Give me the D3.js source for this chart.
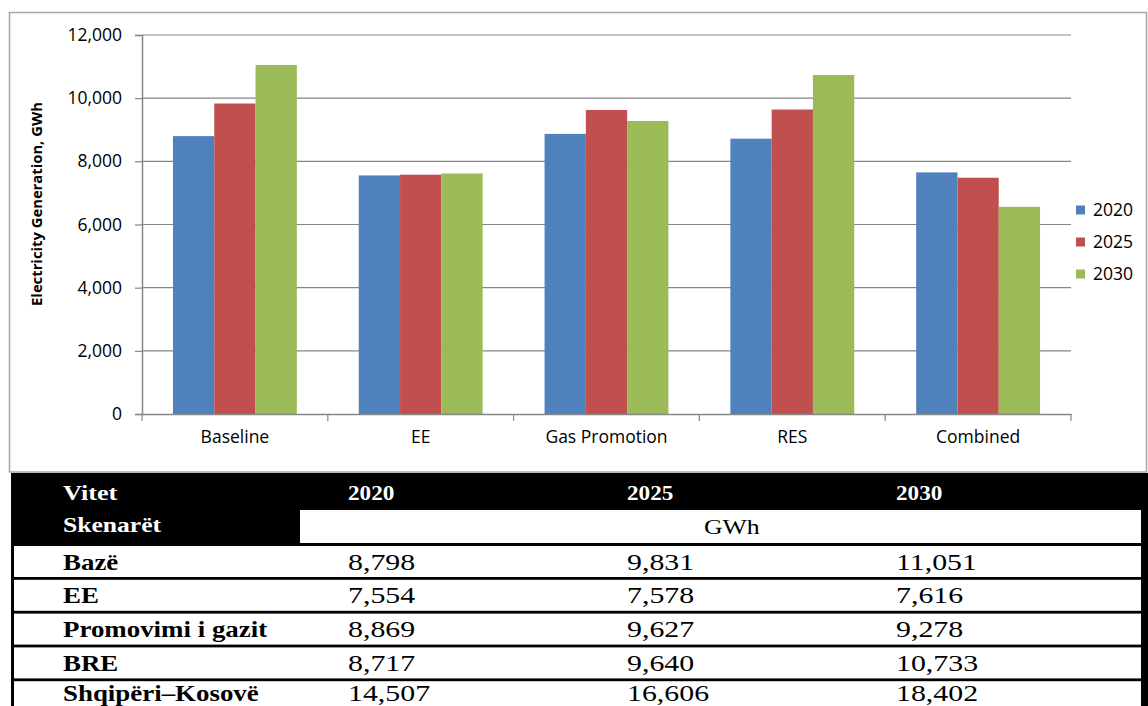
<!DOCTYPE html>
<html><head><meta charset="utf-8">
<script src="https://cdn.jsdelivr.net/npm/d3@7"></script>
<style>html,body{margin:0;padding:0;background:#fff;} svg{display:block}</style>
</head><body><svg id="c" width="1148" height="706"></svg>
<script>
const categories = ["Baseline","EE","Gas Promotion","RES","Combined"];
const years = ["2020","2025","2030"];
const values2020 = [8798,7554,8869,8717,7650];
const values2025 = [9831,7578,9627,9640,7480];
const values2030 = [11051,7616,9278,10733,6560];
const yTicks = [0,2000,4000,6000,8000,10000,12000];
const yTitle = "Electricity Generation, GWh";
const colors = ["#4F81BD","#C0504D","#9BBB59"];

const tableHeader = ["Vitet","2020","2025","2030"];
const tableSubHeader = ["Skenarët","GWh"];
const tableRowLabels = ["Bazë","EE","Promovimi i gazit","BRE","Shqipëri–Kosovë"];
const table2020 = ["8,798","7,554","8,869","8,717","14,507"];
const table2025 = ["9,831","7,578","9,627","9,640","16,606"];
const table2030 = ["11,051","7,616","9,278","10,733","18,402"];

const series = [values2020, values2025, values2030];
const svg = d3.select("#c");
const sans = "'Open Sans', sans-serif";
const serif = "'Liberation Serif', 'Times New Roman', serif";

// chart frame
svg.append("rect").attr("x",9.5).attr("y",12.5).attr("width",1137).attr("height",459.5)
  .attr("fill","#fff").attr("stroke","#a6a6a6").attr("stroke-width",1.5);

const x = d3.scaleBand().domain(categories).range([142,1071]).padding(0);
const x1 = d3.scaleBand().domain(years).range([0,x.bandwidth()]).paddingInner(0).paddingOuter(0.75);
const y = d3.scaleLinear().domain([0,12000]).range([414,35]);

// gridlines
svg.append("g").selectAll("line").data(yTicks.filter(d=>d>0)).join("line")
  .attr("x1",142).attr("x2",1071).attr("y1",d=>y(d)).attr("y2",d=>y(d))
  .attr("stroke","#868686").attr("stroke-width",1.2);

// bars
const groups = svg.append("g").selectAll("g").data(categories).join("g")
  .attr("transform",c=>`translate(${x(c)},0)`);
groups.selectAll("rect").data((c,i)=>years.map((yr,j)=>({yr, v:series[j][i], j})))
  .join("rect")
  .attr("x",d=>x1(d.yr)).attr("width",x1.bandwidth())
  .attr("y",d=>y(d.v)).attr("height",d=>y(0)-y(d.v))
  .attr("fill",d=>colors[d.j]);

// y axis
const yAxis = svg.append("g").attr("transform","translate(142,0)")
  .call(d3.axisLeft(y).tickValues(yTicks).tickSize(7).tickPadding(13).tickFormat(d3.format(",")));
yAxis.select(".domain").attr("stroke","#868686").attr("stroke-width",1.5);
yAxis.selectAll(".tick line").attr("stroke","#868686").attr("stroke-width",1.2);
yAxis.selectAll(".tick text").attr("font-family",sans).attr("font-size",17.5).attr("fill","#000");

// x axis
const xAxis = svg.append("g").attr("transform","translate(0,414)")
  .call(d3.axisBottom(x).tickSize(0).tickPadding(17));
xAxis.select(".domain").attr("stroke","#868686").attr("stroke-width",1.5);
xAxis.selectAll(".tick text").attr("font-family",sans).attr("font-size",17.5).attr("fill","#000");
const bounds = categories.map(c=>x(c)).concat([x.range()[1]]);
svg.append("g").selectAll("line").data(bounds).join("line")
  .attr("x1",d=>d).attr("x2",d=>d).attr("y1",414).attr("y2",421)
  .attr("stroke","#868686").attr("stroke-width",1.2);

// y title
svg.append("text").attr("transform","translate(42,204) rotate(-90)")
  .attr("text-anchor","middle").attr("font-family",sans).attr("font-weight","bold")
  .attr("font-size",14.8).attr("fill","#000").text(yTitle);

// legend
const leg = svg.append("g").selectAll("g").data(years).join("g")
  .attr("transform",(d,i)=>`translate(1076,${210+i*32})`);
leg.append("rect").attr("x",0).attr("y",-4.5).attr("width",9).attr("height",9).attr("fill",(d,i)=>colors[i]);
leg.append("text").attr("x",17).attr("y",0).attr("dy","0.36em")
  .attr("font-family",sans).attr("font-size",17.5).attr("fill","#000").text(d=>d);

// table
const tbl = svg.append("g");
tbl.append("rect").attr("x",11).attr("y",473).attr("width",1137).attr("height",233).attr("fill","#000");
tbl.append("rect").attr("x",300).attr("y",510).attr("width",841).attr("height",33).attr("fill","#fff");
const rowTop = i => 546 + i*33.8;
tbl.selectAll("rect.row").data(tableRowLabels).join("rect").attr("class","row")
  .attr("x",14).attr("y",(d,i)=>rowTop(i)).attr("width",1127).attr("height",(d,i)=>i===4?30:31)
  .attr("fill","#fff");
const colX = [63,348,627,896];
// header
tbl.selectAll("text.hdr").data(tableHeader).join("text").attr("class","hdr")
  .attr("transform",(d,i)=>`translate(${colX[i]},500) scale(${i===0?1.22:1.08},1)`)
  .attr("font-family",serif).attr("font-weight","bold").attr("font-size",21.5).attr("fill","#fff").text(d=>d);
tbl.append("text").attr("transform","translate(63,531.5) scale(1.19,1)").attr("font-family",serif).attr("font-weight","bold")
  .attr("font-size",21.5).attr("fill","#fff").text(tableSubHeader[0]);
tbl.append("text").attr("transform","translate(704,534) scale(1.17,1)").attr("font-family",serif)
  .attr("font-size",22).attr("fill","#000").text(tableSubHeader[1]);
const rows = tableRowLabels.map((l,i)=>[l,table2020[i],table2025[i],table2030[i]]);
rows.forEach((r,i)=>{
  tbl.selectAll(null).data(r).join("text")
    .attr("transform",(d,k)=>`translate(${colX[k]},${i===4?701:rowTop(i)+23.5}) scale(${k===0?1.17:1.27},1)`)
    .attr("font-family",serif).attr("font-weight",(d,k)=>k===0?"bold":"normal")
    .attr("font-size",(d,k)=>k===0?23:23.5).attr("fill","#000").text(d=>d);
});
</script></body></html>
